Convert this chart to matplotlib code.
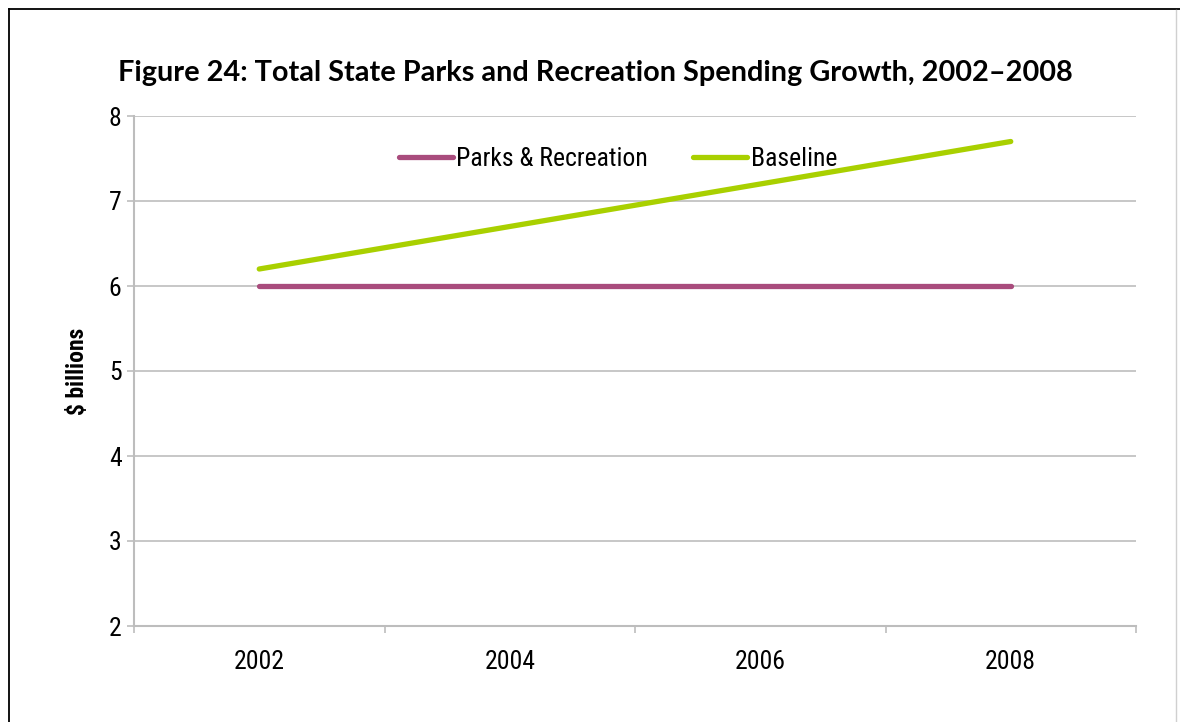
import matplotlib
matplotlib.use("Agg")
import matplotlib.pyplot as plt
from matplotlib.lines import Line2D
from matplotlib import font_manager

# series values, $ billions
years = ["2002", "2004", "2006", "2008"]
parks_recreation = [6.0, 6.0, 6.0, 6.0]
baseline = [6.2, 6.7, 7.2, 7.7]
y_ticks = [2, 3, 4, 5, 6, 7, 8]

title = "Figure 24: Total State Parks and Recreation Spending Growth, 2002\u20132008"

installed = {f.name for f in font_manager.fontManager.ttflist}
narrow = "Liberation Sans Narrow" if "Liberation Sans Narrow" in installed else "Roboto Condensed"
plt.rcParams["font.family"] = [narrow, "Liberation Sans", "DejaVu Sans"]

W, H = 1180, 722
fig = plt.figure(figsize=(W / 100, H / 100), dpi=100)
ax = fig.add_axes([134 / W, 1 - 626 / H, (1136 - 134) / W, (626 - 116) / H])

x = list(range(len(years)))
ax.plot(x, parks_recreation, color="#A94C7D", lw=3.8, solid_capstyle="round",
        label="Parks & Recreation", zorder=3)
ax.plot(x, baseline, color="#A9D000", lw=3.8, solid_capstyle="round",
        label="Baseline", zorder=3)

ax.set_xlim(-0.5, len(years) - 0.5)
ax.set_ylim(2, 8)
ax.set_yticks(y_ticks)
ax.set_xticks(x)
ax.set_xticklabels(years)
ax.set_xticks([i - 0.5 for i in range(len(years) + 1)], minor=True)

grid_c = "#BDBDBD"
ax.yaxis.grid(True, color=grid_c, lw=1.2)
ax.set_axisbelow(True)
for s in ("top", "right"):
    ax.spines[s].set_visible(False)
for s in ("left", "bottom"):
    ax.spines[s].set_color(grid_c)
    ax.spines[s].set_linewidth(1.5)

ax.tick_params(axis="x", which="major", length=0, labelsize=18.5, pad=17)
ax.tick_params(axis="x", which="minor", length=5, color=grid_c, width=1.2)
ax.tick_params(axis="y", length=5, color=grid_c, width=1.2, labelsize=18.5, pad=4)
ax.set_ylabel("$ billions", fontsize=17, fontweight="bold", labelpad=14)

ax.legend(loc="upper center", bbox_to_anchor=(0.483, 0.985), ncol=2, frameon=False,
          fontsize=18.5, handlelength=2.1, handletextpad=0.15, columnspacing=1.75)

fig.text(595 / W, 1 - 73 / H, title, ha="center", va="center", fontsize=20.8,
         fontweight="bold", family=["Lato", "DejaVu Sans"])

# page frame around the figure
fig.add_artist(Line2D([9 / W, 9 / W], [0, 1 - 9 / H], color="black", lw=1.3))
fig.add_artist(Line2D([9 / W, 1], [1 - 9 / H, 1 - 9 / H], color="black", lw=1.3))
fig.add_artist(Line2D([1176 / W, 1176 / W], [0, 1 - 10 / H], color="#D0D0D0", lw=1.0))

fig.savefig("out.png", dpi=100)
